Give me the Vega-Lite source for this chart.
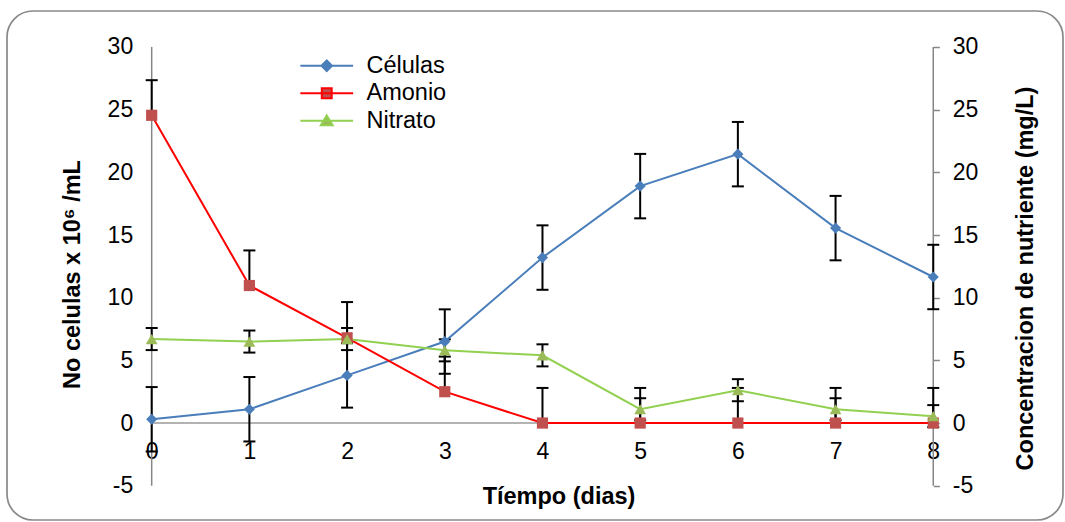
{
  "$schema": "https://vega.github.io/schema/vega-lite/v6.json",
  "width": 1056,
  "height": 509,
  "autosize": {"type": "none"},
  "padding": {"left": 7, "top": 11, "right": 2, "bottom": 2},
  "background": "white",
  "config": {
    "view": {"stroke": "#898989", "strokeWidth": 1.7, "cornerRadius": 26},
    "font": "Liberation Sans",
    "legend": {"orient": "none", "legendX": 308, "legendY": 43, "title": null, "padding": 0, "labelFontSize": 23.5, "labelColor": "#000000", "labelOffset": 28, "symbolSize": 174, "symbolStrokeWidth": 2, "rowPadding": 2.5}
  },
  "data": {
    "values": [
      {"day": 0, "series": "Células", "value": 0.3, "lo": -2.27, "hi": 2.87},
      {"day": 1, "series": "Células", "value": 1.1, "lo": -1.47, "hi": 3.67},
      {"day": 2, "series": "Células", "value": 3.8, "lo": 1.23, "hi": 6.37},
      {"day": 3, "series": "Células", "value": 6.5, "lo": 3.93, "hi": 9.07},
      {"day": 4, "series": "Células", "value": 13.2, "lo": 10.63, "hi": 15.77},
      {"day": 5, "series": "Células", "value": 18.9, "lo": 16.33, "hi": 21.47},
      {"day": 6, "series": "Células", "value": 21.45, "lo": 18.88, "hi": 24.02},
      {"day": 7, "series": "Células", "value": 15.55, "lo": 12.98, "hi": 18.12},
      {"day": 8, "series": "Células", "value": 11.65, "lo": 9.08, "hi": 14.22},
      {"day": 0, "series": "Amonio", "value": 24.55, "lo": 24.55, "hi": 27.35},
      {"day": 1, "series": "Amonio", "value": 10.97, "lo": 10.97, "hi": 13.77},
      {"day": 2, "series": "Amonio", "value": 6.8, "lo": 6.8, "hi": 9.65},
      {"day": 3, "series": "Amonio", "value": 2.5, "lo": 2.5, "hi": 5.3},
      {"day": 4, "series": "Amonio", "value": 0, "lo": 0, "hi": 2.8},
      {"day": 5, "series": "Amonio", "value": 0, "lo": 0, "hi": 2.8},
      {"day": 6, "series": "Amonio", "value": 0, "lo": 0, "hi": 2.8},
      {"day": 7, "series": "Amonio", "value": 0, "lo": 0, "hi": 2.8},
      {"day": 8, "series": "Amonio", "value": 0, "lo": 0, "hi": 2.8},
      {"day": 0, "series": "Nitrato", "value": 6.7, "lo": 5.82, "hi": 7.58},
      {"day": 1, "series": "Nitrato", "value": 6.5, "lo": 5.62, "hi": 7.38},
      {"day": 2, "series": "Nitrato", "value": 6.7, "lo": 5.82, "hi": 7.58},
      {"day": 3, "series": "Nitrato", "value": 5.8, "lo": 4.92, "hi": 6.68},
      {"day": 4, "series": "Nitrato", "value": 5.4, "lo": 4.52, "hi": 6.28},
      {"day": 5, "series": "Nitrato", "value": 1.1, "lo": 0.22, "hi": 1.98},
      {"day": 6, "series": "Nitrato", "value": 2.62, "lo": 1.74, "hi": 3.5},
      {"day": 7, "series": "Nitrato", "value": 1.1, "lo": 0.22, "hi": 1.98},
      {"day": 8, "series": "Nitrato", "value": 0.55, "lo": -0.33, "hi": 1.43}
    ]
  },
  "layer": [
    {
      "data": {"values": [{"axisline": "left"}]},
      "mark": {"type": "rule", "color": "#868686", "strokeWidth": 1.5},
      "encoding": {
        "x": {"datum": 0, "scale": {"domain": [-1.481, 9.328], "nice": false, "zero": false}},
        "y": {"datum": -5, "scale": {"domain": [-7.735, 32.87], "nice": false, "zero": false}, "axis": null},
        "y2": {"datum": 30}
      }
    },
    {
      "data": {"values": [{"axisline": "right"}]},
      "mark": {"type": "rule", "color": "#868686", "strokeWidth": 1.5},
      "encoding": {
        "x": {"datum": 8, "scale": {"domain": [-1.481, 9.328], "nice": false, "zero": false}},
        "y": {"datum": -5, "scale": {"domain": [-7.735, 32.87], "nice": false, "zero": false}, "axis": null},
        "y2": {"datum": 30}
      }
    },
    {
      "data": {"values": [{"day": 0, "level": 0}, {"day": 8, "level": 0}]},
      "mark": {"type": "line", "color": "#9a9a9a", "strokeWidth": 1.5},
      "encoding": {
        "x": {"field": "day", "type": "quantitative", "scale": {"domain": [-1.481, 9.328], "nice": false, "zero": false}},
        "y": {"field": "level", "type": "quantitative", "scale": {"domain": [-7.735, 32.87], "nice": false, "zero": false}, "axis": null}
      }
    },
    {
      "mark": {"type": "rule", "color": "#000000", "strokeWidth": 2},
      "encoding": {
        "x": {
          "field": "day",
          "type": "quantitative",
          "scale": {"domain": [-1.481, 9.328], "nice": false, "zero": false},
          "axis": {
            "orient": "bottom",
            "offset": -96.7,
            "domain": false,
            "ticks": false,
            "tickSize": 0,
            "grid": false,
            "values": [0, 1, 2, 3, 4, 5, 6, 7, 8],
            "format": "d",
            "labelFontSize": 23,
            "labelColor": "#000000",
            "labelPadding": 17,
            "labelFlush": false,
            "labelOverlap": false,
            "title": "Tíempo (dias)",
            "titleFontSize": 23.5,
            "titleFontWeight": "bold",
            "titleColor": "#000000",
            "titleX": 551.5,
            "titleY": 61,
            "titleBaseline": "top"
          }
        },
        "y": {"field": "lo", "type": "quantitative", "scale": {"domain": [-7.735, 32.87], "nice": false, "zero": false}, "axis": null},
        "y2": {"field": "hi"}
      }
    },
    {
      "mark": {"type": "tick", "orient": "horizontal", "size": 12, "thickness": 2, "color": "#000000", "opacity": 1},
      "encoding": {
        "x": {"field": "day", "type": "quantitative", "scale": {"domain": [-1.481, 9.328], "nice": false, "zero": false}},
        "y": {"field": "hi", "type": "quantitative", "scale": {"domain": [-7.735, 32.87], "nice": false, "zero": false}, "axis": null}
      }
    },
    {
      "transform": [{"filter": "datum.series !== 'Amonio'"}],
      "mark": {"type": "tick", "orient": "horizontal", "size": 12, "thickness": 2, "color": "#000000", "opacity": 1},
      "encoding": {
        "x": {"field": "day", "type": "quantitative", "scale": {"domain": [-1.481, 9.328], "nice": false, "zero": false}},
        "y": {"field": "lo", "type": "quantitative", "scale": {"domain": [-7.735, 32.87], "nice": false, "zero": false}, "axis": null}
      }
    },
    {
      "mark": {"type": "line", "strokeWidth": 2},
      "encoding": {
        "x": {"field": "day", "type": "quantitative", "scale": {"domain": [-1.481, 9.328], "nice": false, "zero": false}},
        "y": {
          "field": "value",
          "type": "quantitative",
          "scale": {"domain": [-7.735, 32.87], "nice": false, "zero": false},
          "axis": {
            "orient": "left",
            "offset": -144.7,
            "domain": false,
            "ticks": false,
            "tickSize": 0,
            "grid": false,
            "values": [-5, 0, 5, 10, 15, 20, 25, 30],
            "labelExpr": "replace(datum.label, '−', '-')",
            "labelFontSize": 23,
            "labelColor": "#000000",
            "labelPadding": 19,
            "title": "No celulas x 10⁶ /mL",
            "titleFontSize": 23.5,
            "titleFontWeight": "bold",
            "titleColor": "#000000",
            "titleAngle": 270,
            "titleBaseline": "bottom",
            "titleX": -67.3,
            "titleY": 263
          }
        },
        "stroke": {
          "field": "series",
          "type": "nominal",
          "scale": {"domain": ["Células", "Amonio", "Nitrato"], "range": ["#4a7ebb", "#ff0000", "#92d050"]}
        }
      }
    },
    {
      "transform": [{"filter": "datum.series === 'Células'"}],
      "mark": {"type": "point", "shape": "diamond", "filled": true, "opacity": 1, "strokeWidth": 0, "size": 125, "color": "#4a7ebb"},
      "encoding": {
        "x": {"field": "day", "type": "quantitative", "scale": {"domain": [-1.481, 9.328], "nice": false, "zero": false}},
        "y": {"field": "value", "type": "quantitative", "scale": {"domain": [-7.735, 32.87], "nice": false, "zero": false}, "axis": null}
      }
    },
    {
      "transform": [{"filter": "datum.series === 'Amonio'"}],
      "mark": {"type": "point", "shape": "square", "filled": true, "opacity": 1, "strokeWidth": 0, "size": 125, "color": "#c0504d"},
      "encoding": {
        "x": {"field": "day", "type": "quantitative", "scale": {"domain": [-1.481, 9.328], "nice": false, "zero": false}},
        "y": {"field": "value", "type": "quantitative", "scale": {"domain": [-7.735, 32.87], "nice": false, "zero": false}, "axis": null}
      }
    },
    {
      "transform": [{"filter": "datum.series === 'Nitrato'"}],
      "mark": {"type": "point", "shape": "triangle-up", "filled": true, "opacity": 1, "strokeWidth": 0, "size": 140, "color": "#9bbb59"},
      "encoding": {
        "x": {"field": "day", "type": "quantitative", "scale": {"domain": [-1.481, 9.328], "nice": false, "zero": false}},
        "y": {
          "field": "value",
          "type": "quantitative",
          "scale": {"domain": [-7.735, 32.87], "nice": false, "zero": false},
          "axis": {
            "orient": "right",
            "offset": -129.7,
            "domain": false,
            "ticks": true,
            "tickSize": 6,
            "tickColor": "#868686",
            "tickWidth": 1.5,
            "grid": false,
            "values": [-5, 0, 5, 10, 15, 20, 25, 30],
            "labelExpr": "replace(datum.label, '−', '-')",
            "labelFontSize": 23,
            "labelColor": "#000000",
            "labelPadding": 13,
            "title": "Concentracion de nutriente (mg/L)",
            "titleFontSize": 23.5,
            "titleFontWeight": "bold",
            "titleColor": "#000000",
            "titleAngle": 270,
            "titleBaseline": "top",
            "titleX": 80,
            "titleY": 267
          }
        }
      }
    },
    {
      "transform": [{"filter": "datum.day < 0"}],
      "mark": {"type": "point", "filled": true, "opacity": 1, "strokeWidth": 2, "size": 174},
      "encoding": {
        "x": {"field": "day", "type": "quantitative", "scale": {"domain": [-1.481, 9.328], "nice": false, "zero": false}},
        "y": {"field": "value", "type": "quantitative", "scale": {"domain": [-7.735, 32.87], "nice": false, "zero": false}, "axis": null},
        "stroke": {
          "field": "series",
          "type": "nominal",
          "scale": {"domain": ["Células", "Amonio", "Nitrato"], "range": ["#4a7ebb", "#ff0000", "#92d050"]}
        },
        "fill": {
          "field": "series",
          "type": "nominal",
          "scale": {"domain": ["Células", "Amonio", "Nitrato"], "range": ["#4a7ebb", "#c0504d", "#9bbb59"]}
        },
        "shape": {
          "field": "series",
          "type": "nominal",
          "scale": {"domain": ["Células", "Amonio", "Nitrato"], "range": ["M-4,0H4M0,-0.8L0.8,0L0,0.8L-0.8,0Z", "M-4,0H4M-0.75,-0.75H0.75V0.75H-0.75Z", "M-4,0H4M0,-0.8L0.9,0.7H-0.9Z"]}
        }
      }
    }
  ],
  "resolve": {"axis": {"y": "independent"}}
}
